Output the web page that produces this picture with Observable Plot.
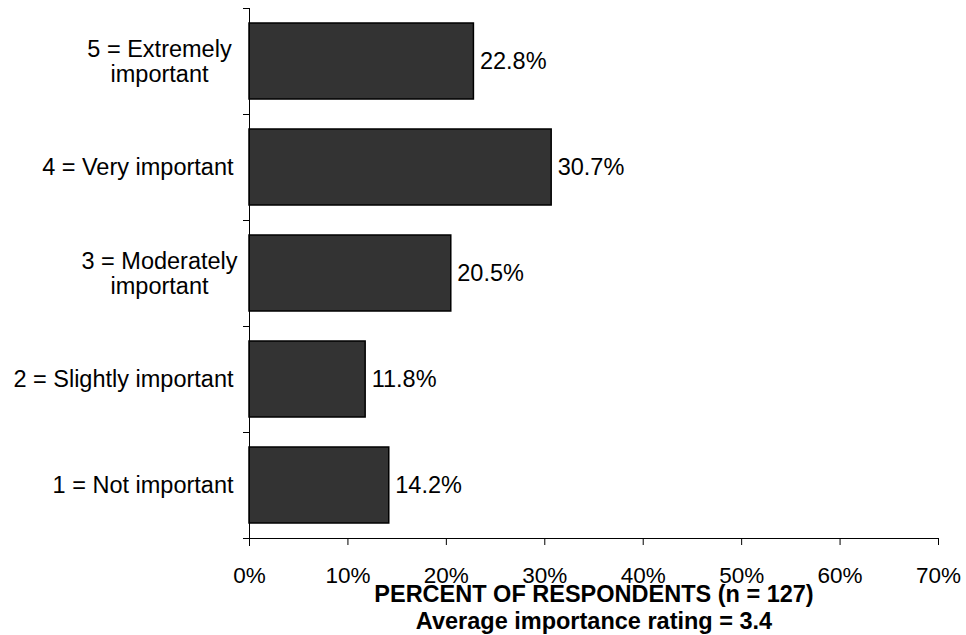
<!DOCTYPE html>
<html><head><meta charset="utf-8">
<script src="https://cdn.jsdelivr.net/npm/d3@7"></script>
<script src="https://cdn.jsdelivr.net/npm/@observablehq/plot@0.6"></script>
<style>body{margin:0;background:#fff;font-family:"Liberation Sans",Arial,sans-serif}</style>
</head><body><div id="chart"></div>
<script>
const categories = ["5 = Extremely\nimportant", "4 = Very important", "3 = Moderately\nimportant", "2 = Slightly important", "1 = Not important"];
const percents = [22.8, 30.7, 20.5, 11.8, 14.2];
const xTicks = [0, 10, 20, 30, 40, 50, 60, 70];
const xTitle = "PERCENT OF RESPONDENTS (n = 127)";
const subTitle = "Average importance rating = 3.4";

const data = categories.map((c, i) => ({category: c, percent: percents[i]}));
const multi = categories.filter(c => c.includes("\n"));
const single = categories.filter(c => !c.includes("\n"));

const W = 966, H = 635, mL = 249, mR = 28, mT = 8, mB = 97;
const halfStep = (H - mT - mB) / categories.length / 2;
const FS = 23.5;

const chart = Plot.plot({
  width: W, height: H,
  marginLeft: mL, marginRight: mR, marginTop: mT, marginBottom: mB,
  style: {fontFamily: '"Liberation Sans", Arial, sans-serif', fontSize: FS + "px", color: "black", background: "white"},
  x: {domain: [0, 70], label: null},
  y: {domain: categories, padding: 0, label: null},
  marks: [
    Plot.barX(data, {x: "percent", y: "category", fill: "#333333", stroke: "black", strokeWidth: 1.5, insetTop: 15, insetBottom: 15}),
    Plot.text(data, {x: "percent", y: "category", text: d => d.percent.toFixed(1) + "%", textAnchor: "start", dx: 6, fontSize: FS, fill: "black"}),
    Plot.axisX({ticks: xTicks, tickFormat: d => d + "%", tickSize: 7, tickPadding: 22, fontSize: 22.5, label: null}),
    Plot.axisY({ticks: single, tickSize: 0, tickPadding: 16, fontSize: FS, label: null}),
    Plot.axisY({ticks: multi, tickSize: 0, tickPadding: 90, textAnchor: "middle", lineHeight: 1.05, fontSize: FS, label: null}),
    Plot.axisY({ticks: categories, tickSize: 6, tickFormat: () => "", dy: -halfStep, label: null}),
    Plot.frame({anchor: "left", insetBottom: -7}),
    Plot.frame({anchor: "bottom", insetLeft: -6}),
    Plot.text([xTitle], {text: d => d, frameAnchor: "bottom", lineAnchor: "middle", dy: 56, fontWeight: "bold", fontSize: 23.5, fill: "black"}),
    Plot.text([subTitle], {text: d => d, frameAnchor: "bottom", lineAnchor: "middle", dy: 83, fontWeight: "bold", fontSize: 23.5, fill: "black"})
  ]
});
document.getElementById("chart").appendChild(chart);
</script>
</body></html>
